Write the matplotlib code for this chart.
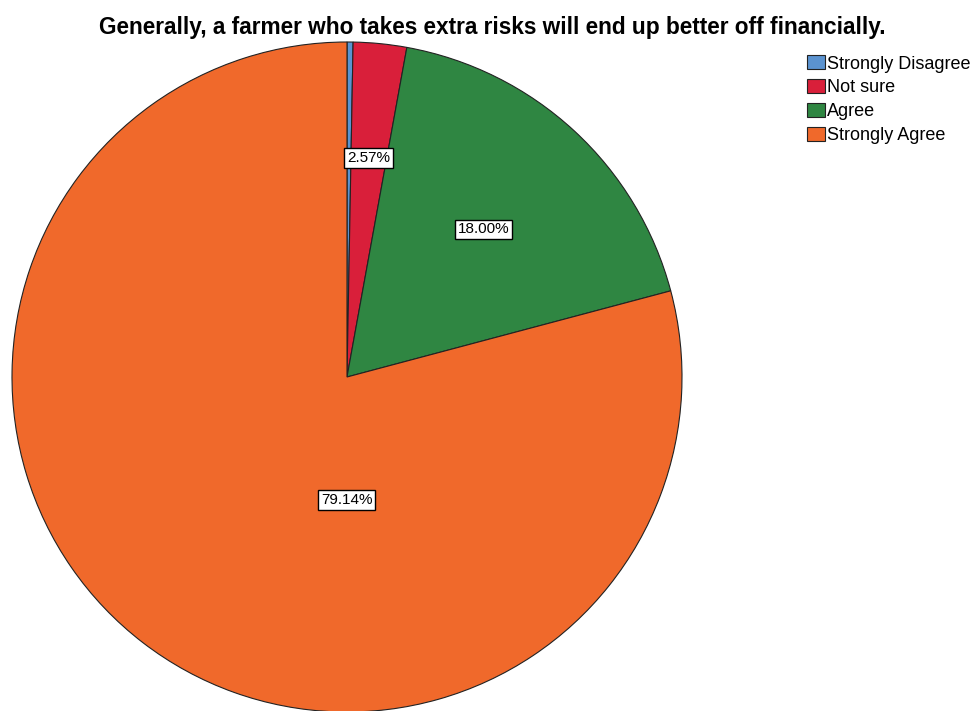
import numpy as np
import matplotlib
matplotlib.use('Agg')
import matplotlib.pyplot as plt

plt.rcParams['font.family'] = ['Liberation Sans', 'DejaVu Sans']

title = "Generally, a farmer who takes extra risks will end up better off financially."
categories = ['Strongly Disagree', 'Not sure', 'Agree', 'Strongly Agree']
percents = [0.29, 2.57, 18.00, 79.14]
colors = ['#5b93d0', '#d91f3a', '#2f8642', '#f0692b']

fig = plt.figure(figsize=(9.79, 7.11), dpi=100)
ax = fig.add_axes([12 / 979, -1 / 711, 670 / 979, 670 / 711])


def fmt(p):
    return f'{p:.2f}%' if p >= 1 else ''


wedges, texts, autotexts = ax.pie(
    percents, colors=colors, startangle=90, counterclock=False,
    autopct=fmt, pctdistance=0.63,
    wedgeprops=dict(edgecolor='#222222', linewidth=0.8),
    textprops=dict(fontsize=11),
)
ax.set_xlim(-1, 1)
ax.set_ylim(-1, 1)
ax.set_aspect('equal')

for t in autotexts:
    t.set_bbox(dict(facecolor='white', edgecolor='black', linewidth=1.0, pad=2.0))

# label radii per slice (SPSS style placement)
label_r = [0.6, 0.657, 0.60]
for w, t, r in zip(wedges[:3], autotexts[:3], label_r):
    mid = np.deg2rad((w.theta1 + w.theta2) / 2)
    t.set_position((r * np.cos(mid), r * np.sin(mid)))
# big slice label sits below the centre
autotexts[3].set_position((0.0, -0.367))

fig.text(0.503, 0.962, title, ha='center', va='center', fontsize=16.3, fontweight='bold')

fig.legend(wedges, categories, loc='upper left', bbox_to_anchor=(800 / 979, 1 - 48 / 711),
           frameon=False, fontsize=13, handlelength=1.0, handleheight=0.83,
           handletextpad=0.12, labelspacing=0.36, borderaxespad=0)

fig.savefig('out.png', dpi=100)
